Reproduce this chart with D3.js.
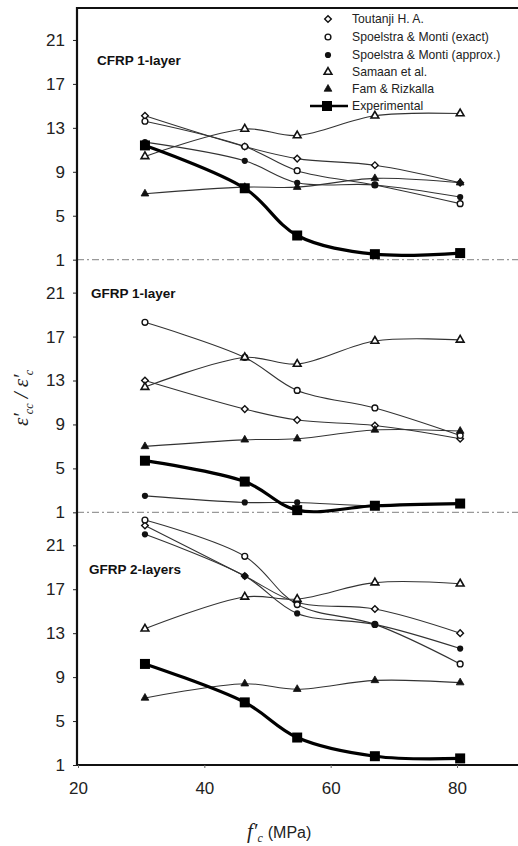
<!DOCTYPE html>
<html><head><meta charset="utf-8">
<script src="https://cdn.jsdelivr.net/npm/d3@7"></script>
<style>body{margin:0;background:#fff}svg{display:block}</style>
</head><body>
<script>
// ---- data ----
const fc = [30.6, 46.4, 54.7, 67, 80.5];
const panels = ["CFRP 1-layer", "GFRP 1-layer", "GFRP 2-layers"];
const seriesNames = ["Toutanji H. A.", "Spoelstra & Monti (exact)", "Spoelstra & Monti (approx.)", "Samaan et al.", "Fam & Rizkalla", "Experimental"];
const xTicks = [20, 40, 60, 80];
const yTicks = [1, 5, 9, 13, 17, 21];
// CFRP 1-layer
const cfrp1_toutanji = [14.1, 11.3, 10.2, 9.6, 8.0];
const cfrp1_exact    = [13.6, 11.3, 9.1, 7.8, 6.1];
const cfrp1_approx   = [11.7, 10.0, 8.0, 7.8, 6.7];
const cfrp1_samaan   = [10.4, 12.9, 12.3, 14.1, 14.3];
const cfrp1_fam      = [7.0, 7.6, 7.6, 8.4, 8.0];
const cfrp1_exp      = [11.4, 7.5, 3.2, 1.5, 1.6];
// GFRP 1-layer
const gfrp1_toutanji = [13.0, 10.4, 9.4, 8.9, 7.7];
const gfrp1_exact    = [18.3, 15.1, 12.1, 10.5, 8.0];
const gfrp1_approx   = [2.5, 1.9, 1.9, 1.6, 1.8];
const gfrp1_samaan   = [12.4, 15.1, 14.5, 16.6, 16.7];
const gfrp1_fam      = [7.0, 7.6, 7.7, 8.5, 8.4];
const gfrp1_exp      = [5.7, 3.8, 1.2, 1.6, 1.8];
// GFRP 2-layers
const gfrp2_toutanji = [22.8, 18.2, 15.8, 15.2, 13.0];
const gfrp2_exact    = [23.3, 20.0, 15.6, 13.8, 10.2];
const gfrp2_approx   = [22.0, 18.2, 14.8, 13.8, 11.6];
const gfrp2_samaan   = [13.4, 16.3, 16.1, 17.6, 17.5];
const gfrp2_fam      = [7.1, 8.4, 7.9, 8.7, 8.5];
const gfrp2_exp      = [10.2, 6.7, 3.5, 1.8, 1.6];

const panelData = [
  [cfrp1_toutanji, cfrp1_exact, cfrp1_approx, cfrp1_samaan, cfrp1_fam, cfrp1_exp],
  [gfrp1_toutanji, gfrp1_exact, gfrp1_approx, gfrp1_samaan, gfrp1_fam, gfrp1_exp],
  [gfrp2_toutanji, gfrp2_exact, gfrp2_approx, gfrp2_samaan, gfrp2_fam, gfrp2_exp]
];

(function () {
// ---- layout ----
const W = 518, H = 846;
const mLeft = 77, mRight = 518, mTop = 7, mBottom = 765;
const ph = (mBottom - mTop) / 3;
const svg = d3.select("body").append("svg").attr("width", W).attr("height", H);

const x = d3.scaleLinear().domain([20, 80]).range([78, 457]);
const yScales = panels.map((p, i) => d3.scaleLinear().domain([1, 24]).range([mTop + ph * (i + 1), mTop + ph * i]));

const sym = {
  diamond: d3.symbol().type(d3.symbolSquare).size(22),
  triangle: d3.symbol().type(d3.symbolTriangle).size(26)
};
function marker(g, kind, cx, cy) {
  if (kind === 0) g.append("path").attr("d", sym.diamond()).attr("transform", `translate(${cx},${cy}) rotate(45)`).attr("fill", "#fff").attr("stroke", "#111").attr("stroke-width", 1.4);
  else if (kind === 1) g.append("circle").attr("cx", cx).attr("cy", cy).attr("r", 2.9).attr("fill", "#fff").attr("stroke", "#111").attr("stroke-width", 1.4);
  else if (kind === 2) g.append("circle").attr("cx", cx).attr("cy", cy).attr("r", 3.1).attr("fill", "#111");
  else if (kind === 3) g.append("path").attr("d", sym.triangle()).attr("transform", `translate(${cx},${cy})`).attr("fill", "#fff").attr("stroke", "#111").attr("stroke-width", 1.6);
  else if (kind === 4) g.append("path").attr("d", sym.triangle()).attr("transform", `translate(${cx},${cy})`).attr("fill", "#111").attr("stroke", "#111").attr("stroke-width", 0.8);
  else g.append("rect").attr("x", cx - 5).attr("y", cy - 5).attr("width", 10).attr("height", 10).attr("fill", "#000");
}

const line = d3.line().curve(d3.curveCatmullRom.alpha(0.5));

panels.forEach((name, i) => {
  const y = yScales[i];
  const g = svg.append("g");
  if (i < 2) {
    g.append("line").attr("x1", mLeft).attr("x2", mRight).attr("y1", y(1)).attr("y2", y(1))
      .attr("stroke", "#999").attr("stroke-width", 1.2).attr("stroke-dasharray", "7,3,2,3");
  }
  const ax = d3.axisLeft(y).tickValues(yTicks).tickSize(4).tickPadding(8).tickFormat(d3.format("d"));
  const ag = svg.append("g").attr("transform", `translate(${mLeft},0)`).call(ax);
  ag.select(".domain").remove();
  ag.selectAll("text").attr("font-family", "Liberation Sans, Arial, sans-serif").attr("font-size", 17).attr("fill", "#222");
  ag.selectAll("line").attr("stroke", "#222");
  panelData[i].forEach((vals, s) => {
    const pts = vals.map((v, k) => [x(fc[k]), y(v)]);
    g.append("path").attr("d", line(pts)).attr("fill", "none")
      .attr("stroke", s === 5 ? "#000" : "#333").attr("stroke-width", s === 5 ? 3.2 : 1.1);
  });
  panelData[i].forEach((vals, s) => {
    vals.forEach((v, k) => marker(g, s, x(fc[k]), y(v)));
  });
  const lx = [97, 91, 89][i], ly = [65, 298, 574][i];
  svg.append("text").attr("x", lx).attr("y", ly).text(name)
    .attr("font-family", "Liberation Sans, Arial, sans-serif").attr("font-weight", "bold").attr("font-size", 13.5).attr("fill", "#111");
});

svg.append("line").attr("x1", mLeft).attr("x2", mRight).attr("y1", mTop + 1).attr("y2", mTop + 1).attr("stroke", "#111").attr("stroke-width", 2.2);
svg.append("line").attr("x1", mLeft).attr("x2", mLeft).attr("y1", mTop).attr("y2", mBottom).attr("stroke", "#111").attr("stroke-width", 2.2);
svg.append("line").attr("x1", mLeft).attr("x2", mRight).attr("y1", mBottom).attr("y2", mBottom).attr("stroke", "#111").attr("stroke-width", 2.2);

const xa = svg.append("g").attr("transform", `translate(0,${mBottom})`)
  .call(d3.axisBottom(x).tickValues(xTicks).tickSize(3).tickPadding(14).tickFormat(d3.format("d")));
xa.select(".domain").remove();
xa.selectAll("text").attr("font-family", "Liberation Sans, Arial, sans-serif").attr("font-size", 17).attr("fill", "#222");
xa.selectAll("line").attr("stroke", "#666");

// y label
const yl = svg.append("text").attr("transform", "translate(28,398) rotate(-90)").attr("text-anchor", "middle")
  .attr("font-family", "Liberation Serif, Times New Roman, serif").attr("font-style", "italic").attr("font-size", 21).attr("fill", "#222");
yl.append("tspan").text("ε′");
yl.append("tspan").attr("font-size", 12).attr("dy", 5).attr("dx", -1).text("cc");
yl.append("tspan").attr("dy", -5).text(" / ε′");
yl.append("tspan").attr("font-size", 12).attr("dy", 5).attr("dx", -1).text("c");

// x label (single text element)
const xf = "Liberation Serif, Times New Roman, serif";
const xl = svg.append("text").attr("x", 247).attr("y", 838).attr("fill", "#222");
xl.append("tspan").attr("font-family", xf).attr("font-style", "italic").attr("font-size", 21).text("f′");
xl.append("tspan").attr("font-family", xf).attr("font-style", "italic").attr("font-size", 12).attr("dx", 0).attr("dy", 4).text("c");
xl.append("tspan").attr("font-family", "Liberation Sans, Arial, sans-serif").attr("font-size", 16).attr("dx", 5).attr("dy", -4).text("(MPa)");

const legY = [19, 37, 55, 72, 89, 106];
const lg = svg.append("g");
seriesNames.forEach((n, s) => {
  if (s === 5) {
    lg.append("line").attr("x1", 310).attr("x2", 348).attr("y1", legY[s]).attr("y2", legY[s]).attr("stroke", "#000").attr("stroke-width", 2.5);
    marker(lg, 5, 327, legY[s]);
  } else {
    marker(lg, s, 328, legY[s]);
  }
  lg.append("text").attr("x", 352).attr("y", legY[s] + 4).text(n)
    .attr("font-family", "Liberation Sans, Arial, sans-serif").attr("font-size", 12.2).attr("fill", "#222");
});
})();
</script>
</body></html>
